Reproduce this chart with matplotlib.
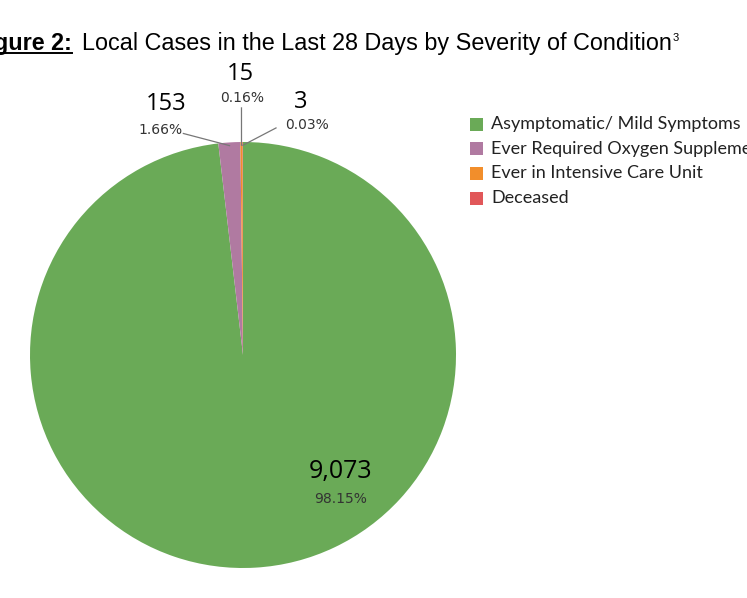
import numpy as np
import matplotlib.pyplot as plt
from matplotlib.patches import Rectangle
from matplotlib.lines import Line2D

categories = ['Asymptomatic/ Mild Symptoms', 'Ever Required Oxygen Supplementation',
              'Ever in Intensive Care Unit', 'Deceased']
cases = [9073, 153, 15, 3]
pct_labels = ['98.15%', '1.66%', '0.16%', '0.03%']
colors = ['#6aaa57', '#b07aa1', '#f28e2b', '#e15759']

W, H = 747, 598
fig = plt.figure(figsize=(W / 100, H / 100), dpi=100)

# pie centre (243, 355) px, radius 213 px
cx, cy, r = 243, 355, 213
ax = fig.add_axes([(cx - r) / W, (H - cy - r) / H, 2 * r / W, 2 * r / H])
wedges, _ = ax.pie(cases, colors=colors, startangle=90, counterclock=False,
                   radius=1, wedgeprops=dict(linewidth=0))
ax.set_xlim(-1, 1)
ax.set_ylim(-1, 1)
ax.set_aspect('equal')
ax.axis('off')


def edge_point(w, frac=0.5):
    a = np.deg2rad(w.theta1 + (w.theta2 - w.theta1) * frac)
    return np.cos(a), np.sin(a)


num_font = 'Open Sans'
pct_font = 'DejaVu Sans'
num_size = 17
pct_size = 10

# big slice label inside
ax.text(0.46, -0.545, f'{cases[0]:,}', ha='center', va='center', fontsize=num_size + 1,
        family=num_font)
ax.text(0.46, -0.675, pct_labels[0], ha='center', va='center', fontsize=pct_size,
        family=pct_font, color='#333333')

# small slices: label positions and leader line starts
lab_pos = [None, (-0.36, 1.18, -0.385, 1.056, -0.28, 1.04),
           (-0.01, 1.32, -0.005, 1.207, 0.0, 1.16),
           (0.272, 1.19, 0.30, 1.08, 0.155, 1.066)]
for i in (1, 2, 3):
    nx, ny, px, py, lx, ly = lab_pos[i]
    ax.text(nx, ny, f'{cases[i]:,}', ha='center', va='center', fontsize=num_size,
            family=num_font, clip_on=False)
    ax.text(px, py, pct_labels[i], ha='center', va='center', fontsize=pct_size,
            family=pct_font, color='#333333', clip_on=False)
    ex, ey = edge_point(wedges[i], 0.5 if i != 3 else 0.0)
    if i == 2:
        lx = ex
    ax.plot([lx, ex * 0.985], [ly, ey * 0.985], color='#777777', lw=0.9, clip_on=False)

# legend drawn by hand so it runs off the right edge like the original
for i, (lab, c) in enumerate(zip(categories, colors)):
    ycen = 124 + i * 24.7
    fig.add_artist(Rectangle((470 / W, (H - ycen - 6.5) / H), 13 / W, 13 / H,
                             transform=fig.transFigure, facecolor=c, edgecolor='none'))
    fig.text(491 / W, (H - ycen) / H, lab, ha='left', va='center', fontsize=13,
             family='Lato', color='#222222')

# title, cut off on the left as in the source
tfont = 'Liberation Sans'
t1 = fig.text(72 / W, (H - 50) / H, 'Figure 2:', ha='right', va='baseline', fontsize=16.8,
              weight='bold', family=tfont)
t2 = fig.text(82 / W, (H - 50) / H, 'Local Cases in the Last 28 Days by Severity of Condition',
              ha='left', va='baseline', fontsize=16.8, family=tfont)
fig.canvas.draw()
rend = fig.canvas.get_renderer()
bb1 = t1.get_window_extent(rend)
bb2 = t2.get_window_extent(rend)
uy = (H - 53) / H
fig.add_artist(Line2D([bb1.x0 / W, bb1.x1 / W], [uy, uy], transform=fig.transFigure,
                      color='black', lw=1.4))
fig.text(bb2.x1 / W + 1 / W, (H - 41) / H, '3', ha='left', va='baseline', fontsize=8,
         family=tfont)

fig.savefig('out.png', dpi=100)
